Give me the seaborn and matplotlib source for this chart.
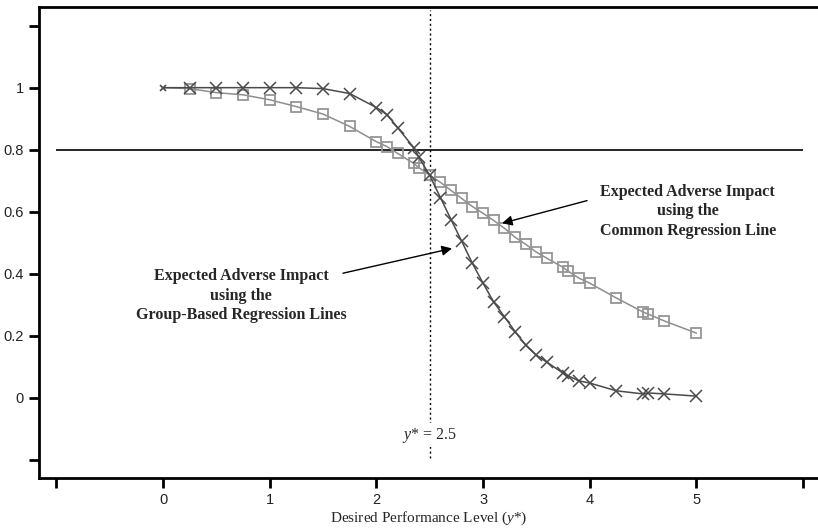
import matplotlib
matplotlib.use("Agg")
import matplotlib.pyplot as plt
import seaborn as sns
import numpy as np
import pandas as pd

# ---- data ----
x_levels = [0, 0.25, 0.5, 0.75, 1.0, 1.25, 1.5, 1.75, 2.0, 2.1, 2.2, 2.35, 2.4, 2.5,
            2.6, 2.7, 2.8, 2.9, 3.0, 3.1, 3.2, 3.3, 3.4, 3.5, 3.6, 3.75, 3.8, 3.9,
            4.0, 4.25, 4.5, 4.55, 4.7, 5.0]
group_based = [1.0, 1.0, 1.0, 1.0, 1.0, 1.0, 0.997, 0.981, 0.936, 0.913, 0.871, 0.807,
               0.775, 0.717, 0.646, 0.575, 0.505, 0.434, 0.370, 0.309, 0.262, 0.214,
               0.170, 0.138, 0.115, 0.080, 0.071, 0.055, 0.048, 0.023, 0.013, 0.016,
               0.013, 0.006]
common_line = [1.0, 0.997, 0.984, 0.977, 0.961, 0.939, 0.915, 0.875, 0.826, 0.810,
               0.788, 0.756, 0.742, 0.718, 0.695, 0.669, 0.643, 0.617, 0.595, 0.572,
               0.547, 0.518, 0.495, 0.470, 0.450, 0.421, 0.408, 0.386, 0.370, 0.322,
               0.277, 0.270, 0.248, 0.209]
x_ticks = [-1, 0, 1, 2, 3, 4, 5, 6]
x_tick_labels = ["", "0", "1", "2", "3", "4", "5", ""]
y_ticks = [-0.2, 0, 0.2, 0.4, 0.6, 0.8, 1.0, 1.2]
y_tick_labels = ["", "0", "0.2", "0.4", "0.6", "0.8", "1", ""]
threshold = 0.8
y_star = 2.5
label_group = "Expected Adverse Impact\nusing the\nGroup-Based Regression Lines"
label_common = "Expected Adverse Impact\nusing the\nCommon Regression Line"

df = pd.DataFrame({"x": x_levels, "group": group_based, "common": common_line})

sns.set_style("white")
plt.rcParams["font.family"] = ["Liberation Sans", "DejaVu Sans"]
plt.rcParams["mathtext.fontset"] = "custom"
plt.rcParams["mathtext.rm"] = "Liberation Serif"
plt.rcParams["mathtext.it"] = "Liberation Serif:italic"

fig = plt.figure(figsize=(8.18, 5.31), dpi=100)
ax = fig.add_axes([39 / 818, 1 - 478 / 531, 1 - 39 / 818, (478 - 7) / 531])

c_dark = "#4a4a4a"
c_light = "#8e8e8e"

sns.lineplot(data=df, x="x", y="common", ax=ax, color=c_light, lw=1.1,
             marker="s", markersize=7, markerfacecolor="none",
             markeredgecolor="#959595", markeredgewidth=1.3,
             markevery=list(range(1, len(x_levels))), estimator=None, zorder=3)
sns.lineplot(data=df, x="x", y="group", ax=ax, color=c_dark, lw=1.1,
             marker="x", markersize=8.5, markeredgewidth=1.1,
             markeredgecolor=c_dark,
             markevery=list(range(1, len(x_levels))), estimator=None, zorder=4)
ax.plot(x_levels[:1], group_based[:1], marker="x", ms=4, mew=1.2, color=c_dark,
        ls="none", zorder=5)

ax.hlines(threshold, -1, 6, color="black", lw=1.2, zorder=2)
ax.vlines(y_star, -0.195, 1.25, color="black", lw=1.0, linestyles=(0, (1.5, 2)),
          zorder=2)
ax.text(y_star, -0.12, r"$y$* = 2.5", ha="center", va="center",
        family=["Liberation Serif"], fontsize=11.5,
        bbox=dict(facecolor="white", edgecolor="none", pad=2), zorder=6)

text_kw = dict(ha="center", va="center", family=["Liberation Serif"],
               fontweight="bold", fontsize=11.5, linespacing=1.3)
arrow_kw = dict(arrowstyle="-|>", color="black", lw=1.0, mutation_scale=15,
                shrinkA=0, shrinkB=0)
ax.text(0.731, 0.33, label_group, **text_kw)
ax.text(4.92, 0.601, label_common, **text_kw)
ax.annotate("", xy=(2.709, 0.482), xytext=(1.687, 0.402), arrowprops=arrow_kw)
ax.annotate("", xy=(3.178, 0.563), xytext=(3.975, 0.636), arrowprops=arrow_kw)

ax.set_xlim(-1.1625, 6.14)
ax.set_ylim(-0.258, 1.26)
ax.set_xticks(x_ticks)
ax.set_xticklabels(x_tick_labels)
ax.set_yticks(y_ticks)
ax.set_yticklabels(y_tick_labels)
ax.tick_params(axis="both", direction="out", length=7, width=2, color="black",
               labelsize=10.5, labelcolor="#222222", pad=4, bottom=True, left=True)
ax.set_xlabel(r"Desired Performance Level ($y$*)", family=["Liberation Serif"],
              fontsize=11, labelpad=2)
ax.set_ylabel("")
for s in ["left", "top", "bottom"]:
    ax.spines[s].set_visible(True)
    ax.spines[s].set_linewidth(2)
    ax.spines[s].set_color("black")
ax.spines["right"].set_visible(False)
ax.grid(False)

fig.savefig("out.png", dpi=100)
